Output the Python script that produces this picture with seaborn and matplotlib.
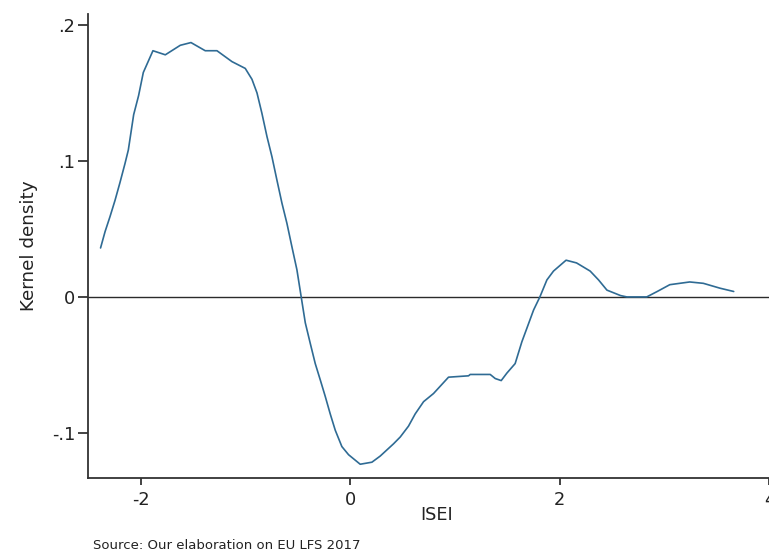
import matplotlib
matplotlib.use("Agg")
import matplotlib.pyplot as plt
import numpy as np
import pandas as pd
import seaborn as sns

# Difference in kernel density estimates along the ISEI scale
isei = [
    -2.383, -2.340, -2.293, -2.245, -2.198, -2.150, -2.118, -2.067, -2.020, -1.975,
    -1.883, -1.765, -1.622, -1.520, -1.384, -1.272, -1.129, -1.002, -0.938, -0.890,
    -0.843, -0.795, -0.747, -0.700, -0.652, -0.604, -0.557, -0.509, -0.468, -0.429,
    -0.382, -0.334, -0.286, -0.239, -0.191, -0.143, -0.080, -0.016, 0.095, 0.207,
    0.286, 0.413, 0.477, 0.556, 0.620, 0.700, 0.795, 0.938, 1.129, 1.145,
    1.336, 1.384, 1.441, 1.495, 1.574, 1.606, 1.638, 1.686, 1.750, 1.810,
    1.877, 1.940, 2.060, 2.160, 2.290, 2.370, 2.450, 2.580, 2.640, 2.830,
    2.930, 3.050, 3.240, 3.370, 3.530, 3.660,
]
density = [
    0.036, 0.048, 0.059, 0.071, 0.084, 0.098, 0.108, 0.134, 0.148, 0.165,
    0.181, 0.178, 0.185, 0.187, 0.181, 0.181, 0.173, 0.168, 0.160, 0.150,
    0.135, 0.118, 0.103, 0.086, 0.069, 0.054, 0.037, 0.020, 0.000, -0.019,
    -0.034, -0.049, -0.061, -0.073, -0.086, -0.098, -0.110, -0.116, -0.123, -0.1215,
    -0.117, -0.108, -0.103, -0.095, -0.086, -0.077, -0.071, -0.059, -0.058, -0.057,
    -0.057, -0.060, -0.0615, -0.056, -0.049, -0.041, -0.033, -0.023, -0.0096, 0.000,
    0.0125, 0.019, 0.027, 0.025, 0.019, 0.0125, 0.005, 0.001, 0.000, 0.000,
    0.004, 0.009, 0.011, 0.010, 0.0064, 0.004,
]

x_ticks = [-2, 0, 2, 4]
x_tick_labels = ["-2", "0", "2", "4"]
y_ticks = [-0.1, 0.0, 0.1, 0.2]
y_tick_labels = ["-.1", "0", ".1", ".2"]

sns.set_style("ticks")
plt.rcParams["font.family"] = ["DejaVu Sans"]

W, H = 769, 553
fig = plt.figure(figsize=(W / 100, H / 100), dpi=100)
fig.patch.set_facecolor("white")

left_px, right_px, top_px, bottom_px = 88.3, 784.0, 14.0, 477.7
ax = fig.add_axes([left_px / W, 1 - bottom_px / H,
                   (right_px - left_px) / W, (bottom_px - top_px) / H])
ax.set_facecolor("white")

df = pd.DataFrame({"ISEI": isei, "density": density})
ax.axhline(0, color="#2b2b2b", lw=1.0, zorder=1)
sns.lineplot(data=df, x="ISEI", y="density", ax=ax, color="#2f6b94",
             lw=1.2, estimator=None, sort=False, zorder=2)

ax.set_xlim(-2.5, 4.14)
ax.set_ylim(-0.1329, 0.208)

ax.set_xticks(x_ticks)
ax.set_xticklabels(x_tick_labels)
ax.set_yticks(y_ticks)
ax.set_yticklabels(y_tick_labels)

for s in ["top", "right"]:
    ax.spines[s].set_visible(False)
for s in ["left", "bottom"]:
    ax.spines[s].set_color("#333333")
    ax.spines[s].set_linewidth(1.3)

ax.tick_params(axis="y", length=7.2, width=1.2, pad=2.2, labelsize=12.8,
               colors="#222222", direction="out")
ax.tick_params(axis="x", length=5.3, width=1.2, pad=4.5, labelsize=12.8,
               colors="#222222", direction="out")

ax.set_xlabel("ISEI", fontsize=12.8, color="#222222")
ax.set_ylabel("Kernel density", fontsize=13.2, color="#222222")
ax.xaxis.set_label_coords(0.5, -(506.5 - bottom_px) / (bottom_px - top_px))
ax.yaxis.set_label_coords(-(88.3 - 37.5) / (right_px - left_px), 0.5)

fig.text(93 / W, 1 - 545.5 / H, "Source: Our elaboration on EU LFS 2017",
         fontsize=9.5, color="#222222", ha="left", va="center")

fig.savefig("out.png", dpi=100, facecolor="white")
